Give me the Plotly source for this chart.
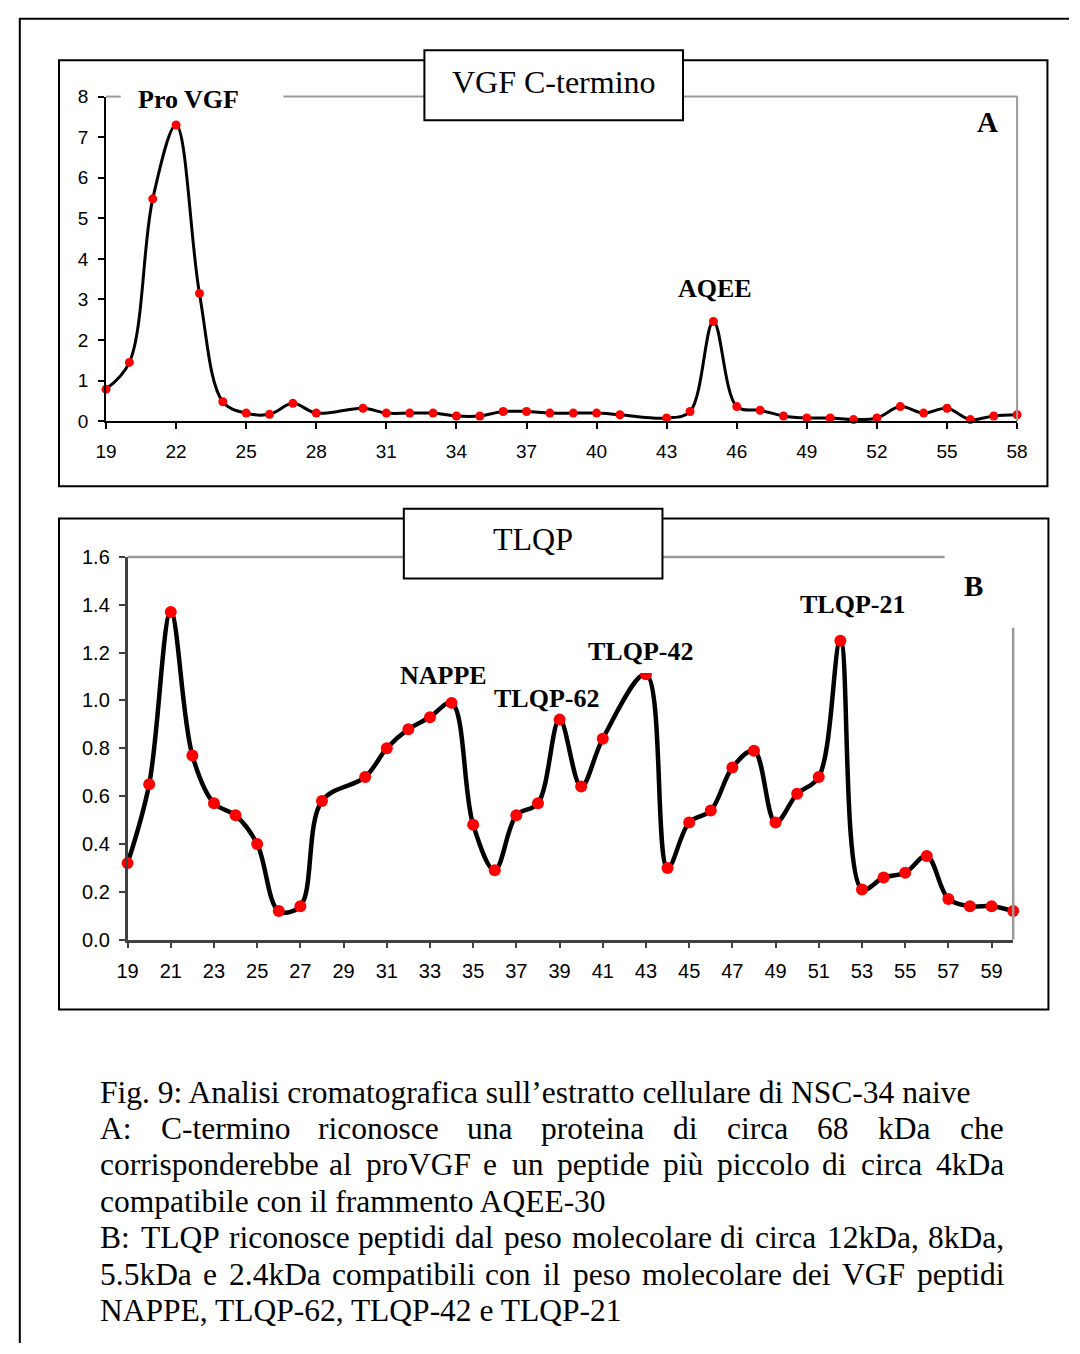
import plotly.graph_objects as go

# ---------------- data ----------------
A_fraction = [19, 20, 21, 22, 23, 24, 25, 26, 27, 28, 30, 31, 32, 33, 34, 35, 36, 37, 38, 39,
              40, 41, 43, 44, 45, 46, 47, 48, 49, 50, 51, 52, 53, 54, 55, 56, 57, 58]
A_value = [0.79, 1.45, 5.48, 7.3, 3.15, 0.48, 0.2, 0.17, 0.44, 0.2, 0.32, 0.2, 0.2, 0.2, 0.13, 0.13,
           0.24, 0.24, 0.2, 0.2, 0.2, 0.16, 0.08, 0.24, 2.46, 0.36, 0.27, 0.13, 0.08, 0.08, 0.04,
           0.08, 0.36, 0.2, 0.32, 0.04, 0.13, 0.16]
A_xticks = list(range(19, 59, 3))
A_yticks = list(range(0, 9))

B_fraction = [19, 20, 21, 22, 23, 24, 25, 26, 27, 28, 30, 31, 32, 33, 34, 35, 36, 37, 38, 39, 40,
              41, 43, 44, 45, 46, 47, 48, 49, 50, 51, 52, 53, 54, 55, 56, 57, 58, 59, 60]
B_value = [0.32, 0.65, 1.37, 0.77, 0.57, 0.52, 0.40, 0.12, 0.14, 0.58, 0.68, 0.80, 0.88, 0.93, 0.99,
           0.48, 0.29, 0.52, 0.57, 0.92, 0.64, 0.84, 1.11, 0.30, 0.49, 0.54, 0.72, 0.79, 0.49, 0.61,
           0.68, 1.25, 0.21, 0.26, 0.28, 0.35, 0.17, 0.14, 0.14, 0.12]
B_xticks = list(range(19, 61, 2))
B_yticks = [0.0, 0.2, 0.4, 0.6, 0.8, 1.0, 1.2, 1.4, 1.6]

A_title = "VGF C-termino"
B_title = "TLQP"
A_peaks = [("Pro VGF", 181, 90), ("AQEE", 719, 282)]
B_peaks = [("NAPPE", 441, 675), ("TLQP-62", 547, 699), ("TLQP-42", 643, 651), ("TLQP-21", 859, 603)]

caption = [
    ("Fig. 9: Analisi cromatografica sull\u2019estratto cellulare di NSC-34 naive", False),
    ("A: C-termino riconosce una proteina di circa 68 kDa che", True),
    ("corrisponderebbe al proVGF e un peptide pi\u00f9 piccolo di circa 4kDa", True),
    ("compatibile con il frammento AQEE-30", False),
    ("B: TLQP riconosce peptidi dal peso molecolare di circa 12kDa, 8kDa,", True),
    ("5.5kDa e 2.4kDa compatibili con il peso molecolare dei VGF peptidi", True),
    ("NAPPE, TLQP-62, TLQP-42 e TLQP-21", False),
]

# ---------------- helpers ----------------
W, H = 1080, 1354
SERIF = "Liberation Serif, Times New Roman, serif"
SANS = "Liberation Sans, Arial, sans-serif"


def px(x):
    return x / W


def py(y):
    return 1 - y / H


shapes = []
annotations = []


def seg(x0, y0, x1, y1, color="black", width=2):
    shapes.append(dict(type="line", xref="paper", yref="paper", x0=px(x0), y0=py(y0),
                       x1=px(x1), y1=py(y1), line=dict(color=color, width=width), layer="above"))


def rect(x0, y0, x1, y1, fill=None, width=2):
    shapes.append(dict(type="rect", xref="paper", yref="paper", x0=px(x0), y0=py(y0),
                       x1=px(x1), y1=py(y1), line=dict(color="black", width=width),
                       fillcolor=fill if fill else "rgba(0,0,0,0)", layer="above"))


def label(text, x, y, size, bold=False, bg=None, xanchor="center", height=None):
    a = dict(xref="paper", yref="paper", x=px(x), y=py(y), text=("<b>%s</b>" % text) if bold else text,
             showarrow=False, xanchor=xanchor, yanchor="middle", borderpad=0, borderwidth=0,
             font=dict(family=SERIF, size=size, color="black"))
    if bg:
        a["bgcolor"] = bg
    if height:
        a["height"] = height
    annotations.append(a)


# ---------------- figure ----------------
fig = go.Figure()
fig.add_trace(go.Scatter(x=A_fraction, y=A_value, mode="lines+markers", xaxis="x", yaxis="y",
                         line=dict(color="black", width=3, shape="spline", smoothing=1.0),
                         marker=dict(color="#ff0000", size=9), cliponaxis=False, showlegend=False))
fig.add_trace(go.Scatter(x=B_fraction, y=B_value, mode="lines+markers", xaxis="x2", yaxis="y2",
                         line=dict(color="black", width=4.5, shape="spline", smoothing=1.0),
                         marker=dict(color="#ff0000", size=12), cliponaxis=False, showlegend=False))

axA = dict(showgrid=False, zeroline=False, showline=True, linecolor="black", linewidth=2,
           ticks="outside", ticklen=6, tickwidth=1.5, tickcolor="black",
           tickfont=dict(family=SANS, size=19, color="black"))
axB = dict(showgrid=False, zeroline=False, showline=True, linecolor="#404040", linewidth=2.5,
           ticks="outside", ticklen=6, tickwidth=1.5, tickcolor="#404040",
           tickfont=dict(family=SANS, size=20, color="black"))

fig.update_layout(
    width=W, height=H, margin=dict(l=0, r=0, t=0, b=0),
    paper_bgcolor="white", plot_bgcolor="white",
    xaxis=dict(axA, domain=[px(97), px(1027)], range=[19, 58], tickvals=A_xticks,
               anchor="y", ticklabelstandoff=6),
    yaxis=dict(axA, domain=[py(417), py(87)], range=[0, 8], tickvals=A_yticks,
               anchor="x", ticklabelstandoff=6),
    xaxis2=dict(axB, domain=[px(119), px(1023)], range=[19, 60], tickvals=B_xticks,
                anchor="y2", ticklabelstandoff=6),
    yaxis2=dict(axB, domain=[py(944), py(555)], range=[0, 1.6], tickvals=B_yticks,
                tickformat=".1f", anchor="x2", ticklabelstandoff=5),
)

# page frame
seg(9, 8, 9, 1354)
seg(8, 8, 1080, 8)

# ----- chart A decorations -----
rect(49, 50, 1058, 483)
seg(97, 87, 112, 87, color="#999999", width=2)
seg(278, 87, 1027, 87, color="#999999", width=2)
seg(1027, 87, 1027, 417, color="#999999", width=2)
rect(422, 40, 686, 111, fill="white")
label(A_title, 554, 72, 32)
label("A", 997, 113, 29, bold=True)
for t, x, y in A_peaks:
    label(t, x, y, 26, bold=True)

# ----- chart B decorations -----
rect(49, 516, 1059, 1015)
seg(119, 555, 953, 555, color="#999999", width=2.5)
seg(1023, 627, 1023, 944, color="#999999", width=2.5)
rect(401, 506, 665, 577, fill="white")
label(B_title, 533, 537, 32)
label("B", 983, 584, 29, bold=True)
for t, x, y in B_peaks:
    if t == "TLQP-42":
        label(t, x, y, 26, bold=True, bg="white", height=44)
    else:
        label(t, x, y, 26, bold=True)

# ----- caption (justified like the original) -----
TIMES = {' ': 250, 'a': 444, 'b': 500, 'c': 444, 'd': 500, 'e': 444, 'f': 333, 'g': 500, 'h': 500,
         'i': 278, 'j': 278, 'k': 500, 'l': 278, 'm': 778, 'n': 500, 'o': 500, 'p': 500, 'q': 500,
         'r': 333, 's': 389, 't': 278, 'u': 500, 'v': 500, 'w': 722, 'x': 500, 'y': 500, 'z': 444,
         'A': 722, 'B': 667, 'C': 667, 'D': 722, 'E': 611, 'F': 556, 'G': 722, 'K': 722, 'L': 611,
         'N': 722, 'P': 556, 'Q': 722, 'S': 556, 'T': 611, 'V': 722, ':': 278, ',': 250, '.': 250,
         '-': 333, '\u2019': 333, '\u00f9': 500}
CAP_SIZE = 31.5
CAP_LEFT, CAP_RIGHT = 91, 1012
CAP_TOP, CAP_PITCH = 1099, 37


def wwidth(word):
    return sum(TIMES.get(c, 500) for c in word) * CAP_SIZE / 1000.0


for i, (line, justify) in enumerate(caption):
    yy = CAP_TOP + i * CAP_PITCH
    if not justify:
        label(line, CAP_LEFT, yy, CAP_SIZE, xanchor="left")
        continue
    words = line.split(" ")
    widths = [wwidth(w) for w in words]
    gap = (CAP_RIGHT - CAP_LEFT - sum(widths)) / (len(words) - 1)
    x = CAP_LEFT
    for w, ww in zip(words, widths):
        label(w, x, yy, CAP_SIZE, xanchor="left")
        x += ww + gap

fig.update_layout(shapes=shapes, annotations=annotations)
fig.write_html("out.html", config={"displayModeBar": False})
